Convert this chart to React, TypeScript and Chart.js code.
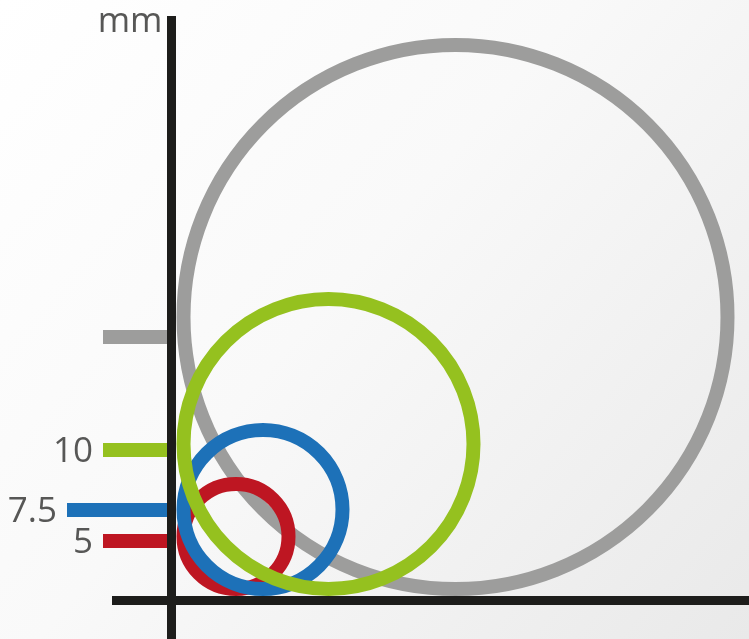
import React, { useEffect, useRef } from "react";
import { Chart, registerables } from "chart.js";

Chart.register(...registerables);

// ---- data (chart units: 1 unit ≈ 1 px above / right of the axis crossing) ----
const sizeLabels = ["", "5", "7.5", "10"];
const circleRadius = [272, 52.5, 79.5, 145];
const markerHeight = [263.5, 59.5, 90.5, 150.5];
const unitLabel = "mm";

// ---- styles ----
const circleColors = ["#9d9d9c", "#be1622", "#1d71b8", "#95c11f"];
const markerLength = [68.5, 68.5, 104.5, 68.5];
const restGap = 11.5; // circle centre-line distance from the axes (half axis + half stroke)
const strokeWidth = 14;
const axisColor = "#1d1d1b";
const textColor = "#575756";
const fontFamily = '"Open Sans", "DejaVu Sans", sans-serif';

const decorPlugin = {
  id: "decor",
  beforeDraw(chart: any) {
    const { ctx, width, height } = chart;
    const g = ctx.createLinearGradient(0, 0, width, height);
    g.addColorStop(0, "#ffffff");
    g.addColorStop(0.45, "#f9f9f9");
    g.addColorStop(1, "#e9e9e9");
    ctx.save();
    ctx.fillStyle = g;
    ctx.fillRect(0, 0, width, height);
    ctx.restore();
  },
  beforeDatasetsDraw(chart: any) {
    const { ctx } = chart;
    const xs = chart.scales.x;
    const ys = chart.scales.y;
    const x0 = xs.getPixelForValue(0);
    ctx.save();
    markerHeight.forEach((h, i) => {
      const y = ys.getPixelForValue(h);
      ctx.fillStyle = circleColors[i];
      ctx.fillRect(x0 - markerLength[i], y - 7, markerLength[i], 14);
      if (sizeLabels[i]) {
        ctx.fillStyle = textColor;
        ctx.font = `35px ${fontFamily}`;
        ctx.textAlign = "right";
        ctx.textBaseline = "middle";
        ctx.fillText(sizeLabels[i], x0 - markerLength[i] - 10, y + 2);
      }
    });
    ctx.restore();
  },
  afterDatasetsDraw(chart: any) {
    const { ctx, width, height } = chart;
    const xs = chart.scales.x;
    const ys = chart.scales.y;
    const x0 = xs.getPixelForValue(0);
    const y0 = ys.getPixelForValue(0);
    ctx.save();
    ctx.fillStyle = axisColor;
    // vertical axis
    ctx.fillRect(x0 - 4.5, 16, 9, height - 16);
    // horizontal axis
    ctx.fillRect(x0 - 59.5, y0 - 4.5, width - (x0 - 59.5), 9);
    // unit label
    ctx.fillStyle = textColor;
    ctx.font = `35px ${fontFamily}`;
    ctx.textAlign = "right";
    ctx.textBaseline = "alphabetic";
    ctx.fillText(unitLabel, x0 - 9, 32);
    ctx.restore();
  },
};

export default function App() {
  const canvasRef = useRef<HTMLCanvasElement | null>(null);

  useEffect(() => {
    const canvas = canvasRef.current;
    if (!canvas) return;
    const pxRadius = (ctx: any) => {
      const xs = ctx.chart.scales.x;
      const r = ctx.raw ? ctx.raw.size : 0;
      return Math.abs(xs.getPixelForValue(r) - xs.getPixelForValue(0));
    };
    const chart = new Chart(canvas, {
      type: "scatter",
      data: {
        datasets: [
          {
            label: "sizes",
            data: circleRadius.map((r) => ({ x: r + restGap + 0.5, y: r + restGap, size: r })) as any,
            pointRadius: pxRadius as any,
            pointHoverRadius: pxRadius as any,
            pointBorderWidth: strokeWidth,
            pointHoverBorderWidth: strokeWidth,
            pointBorderColor: circleColors,
            pointHoverBorderColor: circleColors,
            pointBackgroundColor: "rgba(0,0,0,0)",
            pointHoverBackgroundColor: "rgba(0,0,0,0)",
            clip: false as any,
          },
        ],
      },
      options: {
        animation: false,
        responsive: false,
        devicePixelRatio: 1,
        events: [],
        layout: { padding: { left: 171.5, right: 0, top: 0, bottom: 38.5 } },
        plugins: { legend: { display: false }, tooltip: { enabled: false } },
        scales: {
          x: { type: "linear", min: 0, max: 577.5, display: false },
          y: { type: "linear", min: 0, max: 600.5, display: false },
        },
      },
      plugins: [decorPlugin],
    });
    return () => chart.destroy();
  }, []);

  return (
    <div style={{ position: "fixed", left: 0, top: 0, width: 749, height: 639 }}>
      <canvas ref={canvasRef} width={749} height={639} style={{ display: "block" }} />
    </div>
  );
}
